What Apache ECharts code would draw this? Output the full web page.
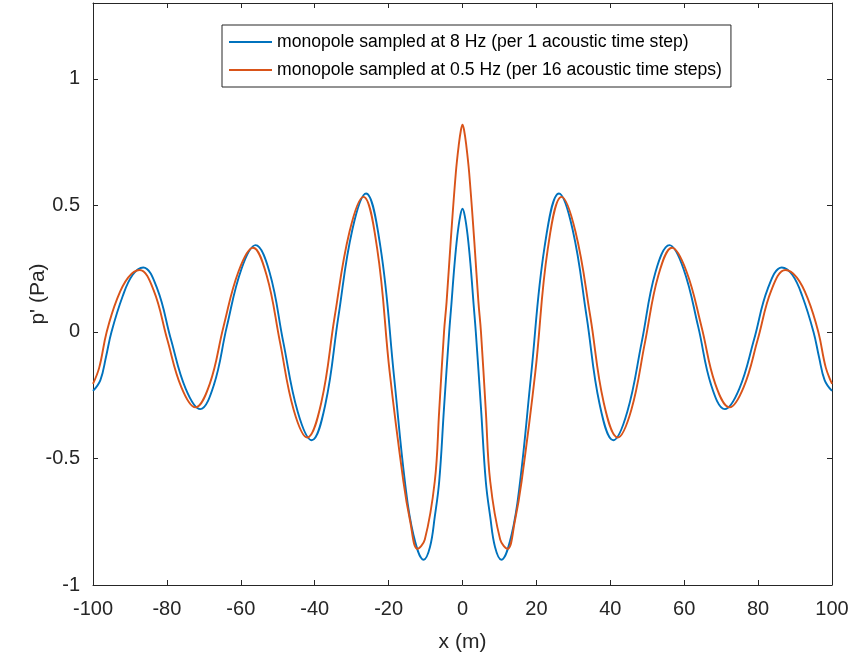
<!DOCTYPE html>
<html>
<head>
<meta charset="utf-8">
<script src="https://cdn.jsdelivr.net/npm/echarts@6/dist/echarts.min.js"></script>
<style>
html,body{margin:0;padding:0;background:#fff;}
#c{width:854px;height:664px;}
</style>
</head>
<body>
<div id="c"></div>
<script>
// Series names
var seriesNames = [
  'monopole sampled at 8 Hz (per 1 acoustic time step)',
  'monopole sampled at 0.5 Hz (per 16 acoustic time steps)'
];
// Tick values
var xTicks = [-100, -80, -60, -40, -20, 0, 20, 40, 60, 80, 100];
var yTicks = [-1, -0.5, 0, 0.5, 1];

// Blue series (8 Hz)
var xBlue = [-100, -98, -96.5, -95, -92, -89.3, -86.4, -82.6, -78.9, -74.9, -71, -67.3, -63.8, -59.8, -56, -52.2, -48.5, -44.6, -40.8, -37.1, -33.6, -29.8, -26.1, -22.2, -18.5, -15.6, -13.3, -10.5, -8.8, -7.5, -6.3, -5, -3.6, -3, -2.2, -1.4, -0.6, 0,
  0.6, 1.4, 2.2, 3, 3.6, 5, 6.3, 7.5, 8.8, 10.5, 13.3, 15.6, 18.5, 22.2, 26.1, 29.8, 33.6, 37.1, 40.8, 44.6, 48.5, 52.2, 56, 59.8, 63.8, 67.3, 71, 74.9, 78.9, 82.6, 86.4, 89.3, 92, 95, 96.5, 98, 100];
var yBlue = [-0.233, -0.19, -0.10, 0.00, 0.14, 0.225, 0.255, 0.17, -0.03, -0.225, -0.305, -0.21, 0.02, 0.25, 0.343, 0.235, -0.04, -0.315, -0.428, -0.285, 0.06, 0.405, 0.547, 0.335, -0.18, -0.59, -0.80, -0.90, -0.85, -0.73, -0.59, -0.30, 0.00, 0.11, 0.26, 0.38, 0.46, 0.487,
  0.46, 0.38, 0.26, 0.11, 0.00, -0.30, -0.59, -0.73, -0.85, -0.90, -0.80, -0.59, -0.18, 0.335, 0.547, 0.405, 0.06, -0.285, -0.428, -0.315, -0.04, 0.235, 0.343, 0.25, 0.02, -0.21, -0.305, -0.225, -0.03, 0.17, 0.255, 0.225, 0.14, 0.00, -0.10, -0.19, -0.233];

// Orange series (0.5 Hz)
var xOrange = [-100, -98.3, -96.3, -93.5, -90.5, -87.4, -83.6, -79.9, -76.1, -72.3, -68.4, -64.7, -60.6, -56.7, -53, -49.4, -45.7, -42, -38.2, -34.6, -30.6, -26.8, -23.1, -19.7, -16, -14.2, -12.2, -10.2, -7.5, -6.3, -5, -4.3, -3.2, -1.8, -1, -0.4, 0,
  0.4, 1, 1.8, 3.2, 4.3, 5, 6.3, 7.5, 10.2, 12.2, 14.2, 16, 19.7, 23.1, 26.8, 30.6, 34.6, 38.2, 42, 45.7, 49.4, 53, 56.7, 60.6, 64.7, 68.4, 72.3, 76.1, 79.9, 83.6, 87.4, 90.5, 93.5, 96.3, 98.3, 100];
var yOrange = [-0.205, -0.14, 0.00, 0.13, 0.215, 0.245, 0.165, -0.03, -0.218, -0.298, -0.205, 0.02, 0.24, 0.333, 0.223, -0.04, -0.307, -0.417, -0.278, 0.06, 0.395, 0.534, 0.33, -0.16, -0.59, -0.745, -0.857, -0.82, -0.59, -0.31, 0.00, 0.12, 0.357, 0.63, 0.74, 0.80, 0.819,
  0.80, 0.74, 0.63, 0.357, 0.12, 0.00, -0.31, -0.59, -0.82, -0.857, -0.745, -0.59, -0.16, 0.33, 0.534, 0.395, 0.06, -0.278, -0.417, -0.307, -0.04, 0.223, 0.333, 0.24, 0.02, -0.205, -0.298, -0.218, -0.03, 0.165, 0.245, 0.215, 0.13, 0.00, -0.14, -0.205];

function pairs(xs, ys) { return xs.map(function (x, i) { return [x, ys[i]]; }); }

var axisColor = '#262626';
var fontFam = 'Liberation Sans, Arial, Helvetica, sans-serif';

var chart = echarts.init(document.getElementById('c'), null, {renderer: 'canvas'});
chart.setOption({
  animation: false,
  backgroundColor: '#ffffff',
  grid: {left: 93, right: 22, top: 3, bottom: 79, outerBoundsMode: 'none', containLabel: false},
  legend: {
    orient: 'vertical',
    left: 222, top: 25,
    padding: [7, 9, 7, 7],
    icon: 'rect',
    itemWidth: 43, itemHeight: 2, itemGap: 8,
    backgroundColor: '#ffffff',
    borderColor: axisColor, borderWidth: 1, borderRadius: 0,
    textStyle: {fontFamily: fontFam, fontSize: 17.6, color: '#000000', lineHeight: 20},
    data: seriesNames
  },
  xAxis: [{
    type: 'value', min: -100, max: 100, interval: 20, position: 'bottom',
    name: 'x (m)', nameLocation: 'middle', nameGap: 47, nameMoveOverlap: false,
    nameTextStyle: {fontFamily: fontFam, fontSize: 21, color: axisColor},
    axisLine: {show: true, onZero: false, lineStyle: {color: axisColor, width: 1}},
    axisTick: {show: true, inside: true, length: 5, lineStyle: {color: axisColor}},
    axisLabel: {fontFamily: fontFam, fontSize: 20, color: axisColor, margin: 14,
      formatter: function (v) { return xTicks.indexOf(v) >= 0 ? String(v) : ''; }},
    splitLine: {show: false}
  }, {
    type: 'value', min: -100, max: 100, interval: 20, position: 'top',
    axisLine: {show: true, onZero: false, lineStyle: {color: axisColor, width: 1}},
    axisTick: {show: true, inside: true, length: 5, lineStyle: {color: axisColor}},
    axisLabel: {show: false},
    splitLine: {show: false}
  }],
  yAxis: [{
    type: 'value', min: -1, max: 1.3, interval: 0.5, position: 'left',
    name: "p' (Pa)", nameLocation: 'middle', nameGap: 44, nameMoveOverlap: false,
    nameTextStyle: {fontFamily: fontFam, fontSize: 21, color: axisColor},
    axisLine: {show: true, onZero: false, lineStyle: {color: axisColor, width: 1}},
    axisTick: {show: true, inside: true, length: 5, lineStyle: {color: axisColor}},
    axisLabel: {fontFamily: fontFam, fontSize: 20, color: axisColor, margin: 13, showMaxLabel: false,
      formatter: function (v) { return yTicks.indexOf(v) >= 0 ? String(v) : ''; }},
    splitLine: {show: false}
  }, {
    type: 'value', min: -1, max: 1.3, interval: 0.5, position: 'right',
    axisLine: {show: true, onZero: false, lineStyle: {color: axisColor, width: 1}},
    axisTick: {show: true, inside: true, length: 5, lineStyle: {color: axisColor}},
    axisLabel: {show: false},
    splitLine: {show: false}
  }],
  series: [{
    name: seriesNames[0], type: 'line', xAxisIndex: 0, yAxisIndex: 0,
    data: pairs(xBlue, yBlue), symbol: 'none', smooth: 0.4,
    lineStyle: {color: '#0072BD', width: 1.9}, itemStyle: {color: '#0072BD'}
  }, {
    name: seriesNames[1], type: 'line', xAxisIndex: 0, yAxisIndex: 0,
    data: pairs(xOrange, yOrange), symbol: 'none', smooth: 0.4,
    lineStyle: {color: '#D95319', width: 1.9}, itemStyle: {color: '#D95319'}
  }]
});
</script>
</body>
</html>
